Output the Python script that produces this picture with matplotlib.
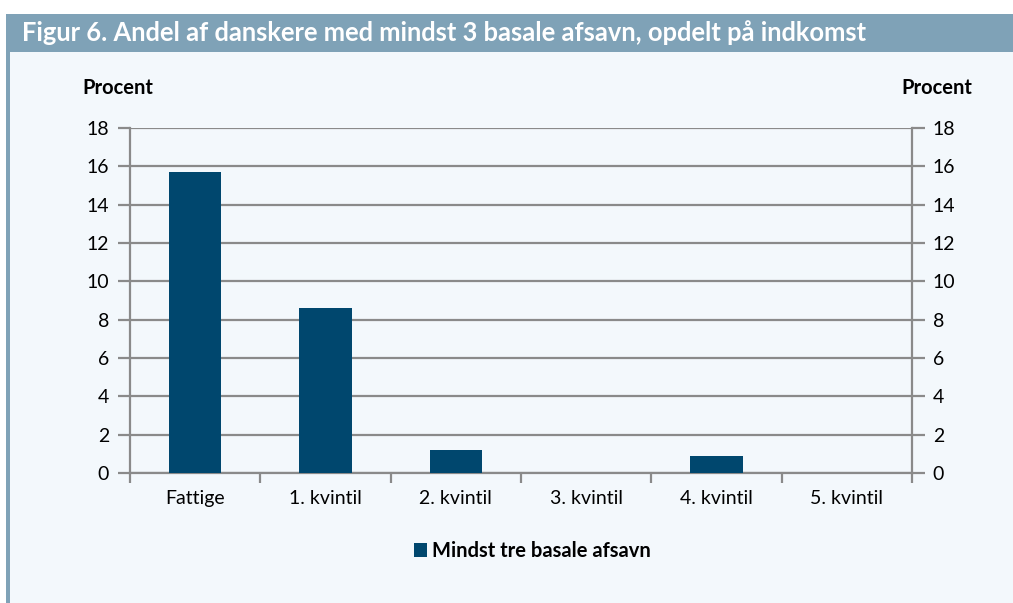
import matplotlib.pyplot as plt
from matplotlib.patches import Rectangle
import numpy as np

plt.rcParams['font.family'] = ['Lato', 'DejaVu Sans']

categories = ["Fattige", "1. kvintil", "2. kvintil", "3. kvintil", "4. kvintil", "5. kvintil"]
values = [15.7, 8.6, 1.2, 0.0, 0.9, 0.0]
series_name = "Mindst tre basale afsavn"
title = "Figur 6. Andel af danskere med mindst 3 basale afsavn, opdelt på indkomst"

W, H = 1013, 603
bg = "#f3f8fc"
band = "#7fa2b7"
bar_color = "#00476e"
grid_color = "#8a8a8a"

fig = plt.figure(figsize=(W / 100, H / 100), dpi=100)
fig.patch.set_facecolor("white")

# panel background, title band and left strip
fig.patches.append(Rectangle((6 / W, 0), 1 - 6 / W, 1 - 14 / H, transform=fig.transFigure,
                             facecolor=bg, edgecolor="none", zorder=-3))
fig.patches.append(Rectangle((6 / W, 1 - 52 / H), 1 - 6 / W, 38 / H, transform=fig.transFigure,
                             facecolor=band, edgecolor="none", zorder=-2))
fig.patches.append(Rectangle((6 / W, 0), 4 / W, 1 - 14 / H, transform=fig.transFigure,
                             facecolor=band, edgecolor="none", zorder=-2))
fig.text(22 / W, 1 - 33 / H, title, color="white", fontsize=18.4, fontweight="bold",
         va="center", ha="left")

ax = fig.add_axes([130 / W, 1 - 473 / H, (912 - 130) / W, (473 - 128) / H])
ax.set_facecolor("none")
x = np.arange(len(categories))
ax.bar(x, values, width=0.4, color=bar_color, zorder=3, label=series_name)

ax.set_xlim(-0.5, len(categories) - 0.5)
ax.set_ylim(0, 18)
ax.set_yticks(np.arange(0, 19, 2))
ax.yaxis.grid(True, color=grid_color, linewidth=1.6, zorder=0)
ax.set_axisbelow(True)

ax.set_xticks(np.arange(-0.5, len(categories), 1.0))
ax.set_xticklabels([])
ax.set_xticks(x, minor=True)
ax.set_xticklabels(categories, minor=True)
ax.tick_params(axis="x", which="major", length=7, width=1.6, color=grid_color, direction="out")
ax.tick_params(axis="x", which="minor", length=0, pad=12, labelsize=14)
ax.tick_params(axis="y", length=9, width=1.6, color=grid_color, labelsize=14, pad=6)

for s in ["top", "right"]:
    ax.spines[s].set_visible(False)
for s in ["left", "bottom"]:
    ax.spines[s].set_color(grid_color)
    ax.spines[s].set_linewidth(1.6)

ax2 = ax.twinx()
ax2.set_ylim(0, 18)
ax2.set_yticks(np.arange(0, 19, 2))
ax2.tick_params(axis="y", length=9, width=1.6, color=grid_color, labelsize=14, pad=6)
for s in ["top", "left", "bottom"]:
    ax2.spines[s].set_visible(False)
ax2.spines["right"].set_color(grid_color)
ax2.spines["right"].set_linewidth(1.6)

fig.text(82 / W, 1 - 88 / H, "Procent", fontsize=14.5, fontweight="bold", va="center", ha="left")
fig.text(972 / W, 1 - 88 / H, "Procent", fontsize=14.5, fontweight="bold", va="center", ha="right")

fig.legend(*ax.get_legend_handles_labels(), loc="center", bbox_to_anchor=(532 / W, 1 - 551 / H),
           frameon=False, handlelength=0.65, handleheight=0.65, handletextpad=0.25,
           prop={"weight": "bold", "size": 14.5})

fig.savefig("out.png", dpi=100)
